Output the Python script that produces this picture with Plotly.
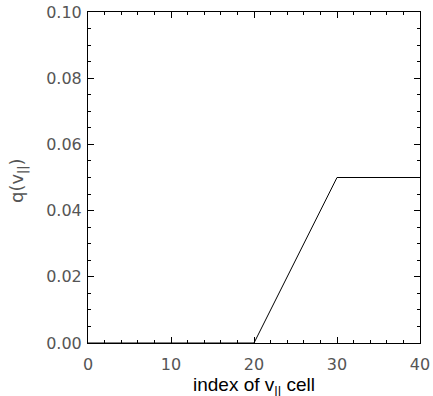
import plotly.graph_objects as go

# data (breakpoints of the curve)
cell_index = [0, 20, 30, 40]
q_values = [0.0, 0.0, 0.05, 0.05]

x_ticks = [0, 10, 20, 30, 40]
y_ticks = [0.00, 0.02, 0.04, 0.06, 0.08, 0.10]

W, H = 433, 396
L, R, T, B = 88, 13, 12, 53

fig = go.Figure()
fig.add_trace(go.Scatter(x=cell_index, y=q_values, mode="lines",
                         line=dict(color="black", width=1), showlegend=False,
                         cliponaxis=False))

tickfont = dict(family="DejaVu Sans", size=16, color="#555")

fig.update_layout(
    width=W, height=H,
    margin=dict(l=L, r=R, t=T, b=B, autoexpand=False),
    paper_bgcolor="white", plot_bgcolor="white",
    xaxis=dict(range=[0, 40], tickvals=x_ticks, ticktext=[str(v) for v in x_ticks],
               ticks="inside", ticklen=6, tickwidth=1, tickcolor="black",
               minor=dict(dtick=2, ticks="inside", ticklen=3, tickcolor="black"),
               showline=True, linecolor="black", linewidth=1, mirror="allticks",
               showgrid=False, zeroline=False, tickfont=tickfont,
               ticklabelstandoff=7, automargin=False),
    yaxis=dict(range=[0, 0.10], tickvals=y_ticks, ticktext=[f"{v:.2f}" for v in y_ticks],
               ticks="inside", ticklen=6, tickwidth=1, tickcolor="black",
               minor=dict(dtick=0.005, ticks="inside", ticklen=3, tickcolor="black"),
               showline=True, linecolor="black", linewidth=1, mirror="allticks",
               showgrid=False, zeroline=False, tickfont=tickfont,
               ticklabelstandoff=2, automargin=False),
)

plot_h = H - T - B
plot_w = W - L - R
# x-axis title
fig.add_annotation(text="index of v<sub>||</sub> cell", xref="paper", yref="paper",
                   x=0.5, y=-(386 - (H - B)) / plot_h, xanchor="center", yanchor="middle",
                   showarrow=False,
                   font=dict(family="Liberation Sans", size=19, color="black"))
# y-axis title
fig.add_annotation(text="q(v<sub>||</sub>)", xref="paper", yref="paper",
                   x=-(L - 18) / plot_w, y=1 - (181 - T) / plot_h,
                   xanchor="center", yanchor="middle", textangle=-90,
                   showarrow=False,
                   font=dict(family="DejaVu Sans", size=18, color="#555"))

fig.write_html("out.html", config={"displayModeBar": False},
               post_script="document.body.style.margin='0';")
